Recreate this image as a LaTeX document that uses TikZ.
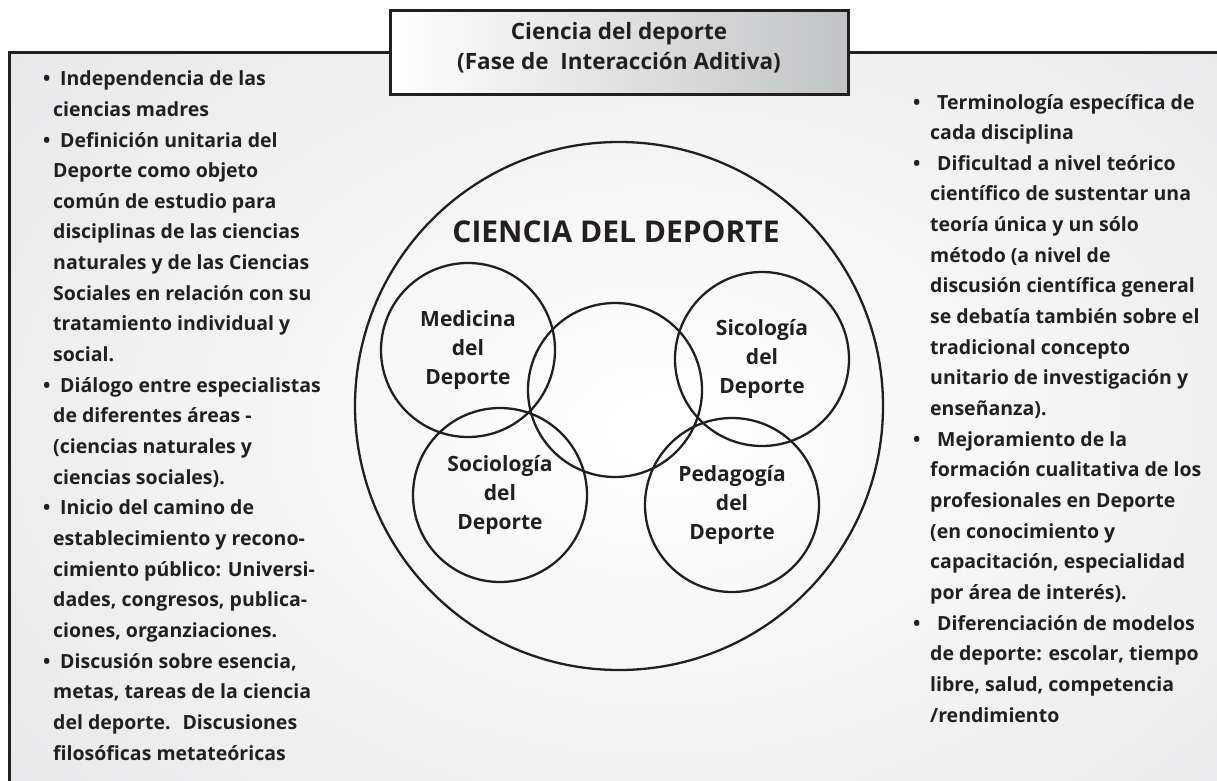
\documentclass[tikz,border=0pt]{standalone}
\usepackage{fontspec}
\setmainfont{Open Sans}
\definecolor{ink}{HTML}{231F20}
\definecolor{bggray}{HTML}{E4E4E6}
\definecolor{boxgray}{HTML}{C2C3C5}
\newcommand{\bul}[2]{\hspace*{-#1pt}\makebox[#2pt][l]{\textbullet}}
\begin{document}
\begin{tikzpicture}[x=1pt,y=-1pt,
  disc/.style={draw=ink,circle,line width=2.3pt,minimum size=174pt,inner sep=0pt,
    align=center,text=ink,font=\bfseries\fontsize{21}{29}\selectfont},
  col/.style={anchor=base west,inner sep=0pt,align=left,text=ink,
    font=\bfseries\fontsize{19.5}{30.65}\selectfont},
  titlebox/.style={draw=ink,line width=3pt,left color=white,right color=boxgray,
    minimum width=458pt,minimum height=84pt,align=center,text=ink,text depth=15pt,
    font=\bfseries\fontsize{22.5}{30}\selectfont}]
\useasboundingbox (0,0) rectangle (1217,781);
% background and frame
\begin{scope}
  \clip (9,53) rectangle (1217,781);
  \shade[inner color=white,outer color=bggray] (-340,-270) rectangle (1660,1130);
\end{scope}
\draw[ink,line width=3pt] (1217,53) -- (9,53) -- (9,781);

\node[titlebox] (titulo) at (619,53) {Ciencia del deporte\\(Fase de~ Interacción Aditiva)};

% big circle
\node[draw=ink,circle,line width=2.3pt,minimum size=528pt,inner sep=0pt] (ciencia) at (619,406) {};
\node[text=ink,font=\bfseries\fontsize{30}{30}\selectfont] (rotulo) at (616,232) {CIENCIA DEL DEPORTE};

% the five disciplines
\node[disc] (nucleo) at (615,390) {};
\foreach \n/\x/\y/\t in {medicina/468/350/{Medicina\\del\\Deporte},
    sicologia/762/359/{Sicología\\del\\Deporte},
    sociologia/500/495/{Sociología\\del\\Deporte},
    pedagogia/732/505/{Pedagogía\\del\\Deporte}}  % list elements
  {\node[disc] (\n) at (\x,\y) {\t};
  }

% base = last line
\node[col] (izquierda) at (53,760) {%
  \bul{10}{17}Independencia de las\\
  ciencias madres\\
  \bul{10}{17}Definición unitaria del\\
  Deporte como objeto\\
  común de estudio para\\
  disciplinas de las ciencias\\
  naturales y de las Ciencias\\
  Sociales en relación con su\\
  tratamiento individual y\\
  social.\\
  \bul{10}{17}Diálogo entre especialistas\\
  de diferentes áreas -\\
  (ciencias naturales y\\
  ciencias sociales).\\
  \bul{10}{17}Inicio del camino de\\
  establecimiento y recono-\\
  cimiento público: Universi-\\
  dades, congresos, publica-\\
  ciones, organziaciones.\\
  \bul{10}{17}Discusión sobre esencia,\\
  metas, tareas de la ciencia\\
  del deporte.~ Discusiones\\
  filosóficas metateóricas};

\node[col] (derecha) at (930,722) {%
  \bul{17}{24}Terminología específica de\\
  cada disciplina\\
  \bul{17}{24}Dificultad a nivel teórico\\
  científico de sustentar una\\
  teoría única y un sólo\\
  método (a nivel de\\
  discusión científica general\\
  se debatía también sobre el\\
  tradicional concepto\\
  unitario de investigación y\\
  enseñanza).\\
  \bul{17}{24}Mejoramiento de la\\
  formación cualitativa de los\\
  profesionales en Deporte\\
  (en conocimiento y\\
  capacitación, especialidad\\
  por área de interés).\\
  \bul{17}{24}Diferenciación de modelos\\
  de deporte: escolar, tiempo\\
  libre, salud, competencia\\
  /rendimiento};
\end{tikzpicture}
\end{document}
